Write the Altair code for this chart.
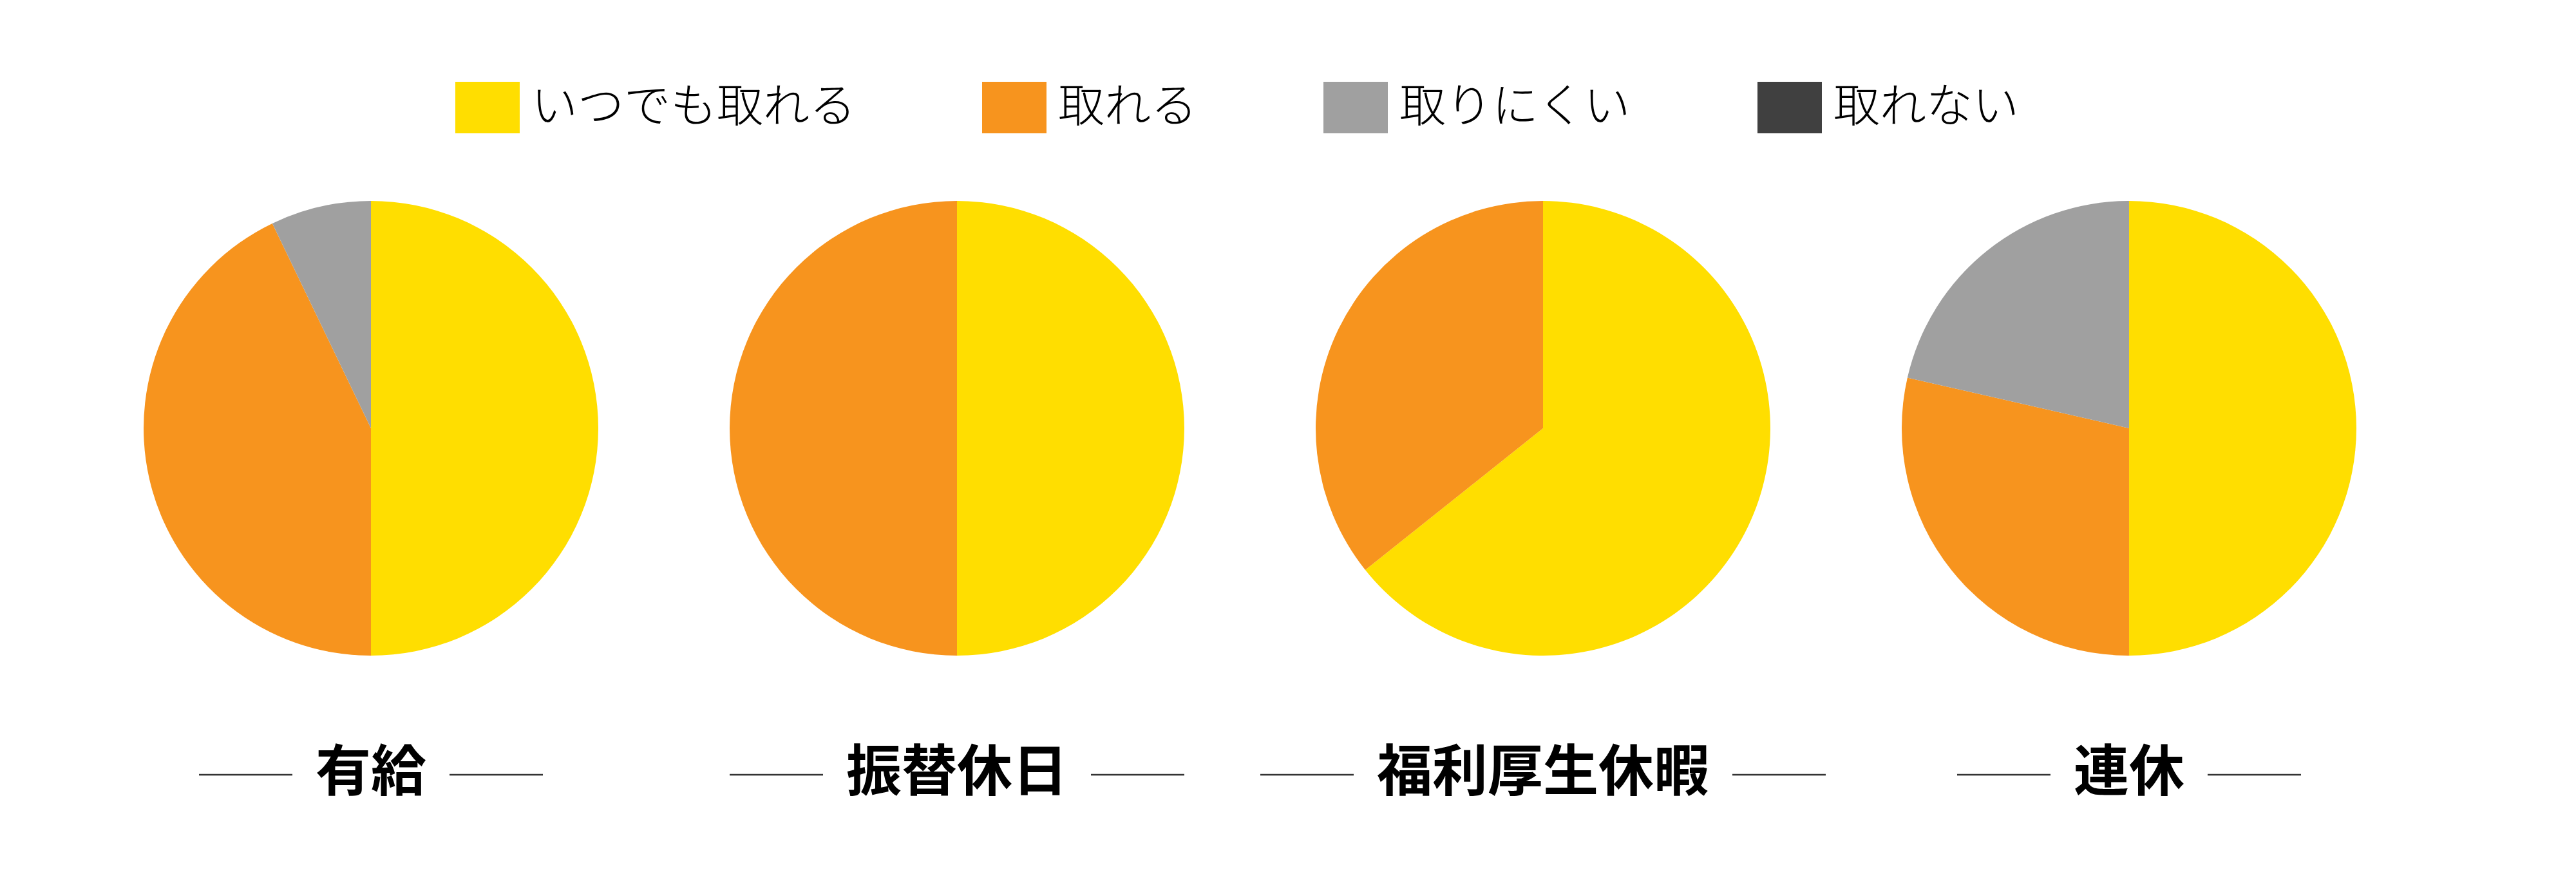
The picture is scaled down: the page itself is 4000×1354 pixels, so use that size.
import altair as alt
import pandas as pd

# --- data (counts per answer) ---
categories = ["有給", "振替休日", "福利厚生休暇", "連休"]
answers = ["いつでも取れる", "取れる", "取りにくい", "取れない"]
colors = ["#FFDE00", "#F7941E", "#A0A0A0", "#404040"]

yukyu = [7, 6, 1, 0]
furikae = [7, 7, 0, 0]
fukuri = [9, 5, 0, 0]
renkyu = [7, 4, 3, 0]
series = [yukyu, furikae, fukuri, renkyu]

rows = []
for ci, (cat, vals) in enumerate(zip(categories, series)):
    for ai, (ans, v) in enumerate(zip(answers, vals)):
        rows.append({"cat": cat, "i": ci, "ans": ans, "o": ai, "v": v})
df = pd.DataFrame(rows)
tdf = pd.DataFrame({"t": categories, "i": list(range(len(categories)))})

FONT = "Noto Sans CJK JP"
PAD = 0.633
xs_q = alt.Scale(domain=[-PAD, len(categories) - 1 + PAD])
xs_p = alt.Scale(type="point", domain=categories, padding=PAD)

pies = (
    alt.Chart(df)
    .transform_joinaggregate(tot="sum(v)", groupby=["cat"])
    .transform_window(cum="sum(v)", groupby=["cat"], sort=[alt.SortField("o")],
                      frame=[None, 0])
    .transform_calculate(s1="datum.cum / datum.tot",
                         s0="(datum.cum - datum.v) / datum.tot")
    .mark_arc(radius=353)
    .encode(
        x=alt.X("cat:N", scale=xs_p, axis=None),
        y=alt.value(665),
        theta=alt.Theta("s0:Q", scale=alt.Scale(domain=[0, 1])),
        theta2="s1:Q",
        color=alt.Color(
            "ans:N",
            scale=alt.Scale(domain=answers, range=colors),
            legend=alt.Legend(
                title=None, orient="none", legendX=707, legendY=117,
                direction="horizontal", padding=0,
                symbolType="M-1,-0.8H1V0.8H-1Z", symbolSize=10000,
                symbolStrokeWidth=0, symbolOpacity=1,
                labelFont=FONT, labelFontSize=72, labelFontWeight=300,
                labelColor="#000000", labelOffset=18, columnPadding=195,
                labelLimit=1000,
            ),
        ),
    )
)

titles = (
    alt.Chart(tdf)
    .mark_text(font=FONT, fontSize=86, fontWeight="bold", baseline="middle",
               align="center", color="#000000")
    .encode(x=alt.X("i:Q", scale=xs_q, axis=None), y=alt.value(1202), text="t:N")
)

base_r = alt.Chart(tdf).transform_calculate(
    h="(length(datum.t) * 43 + 36) / 910", L="145 / 910"
).transform_calculate(
    a="datum.i - datum.h - datum.L", b="datum.i - datum.h",
    c="datum.i + datum.h", d="datum.i + datum.h + datum.L",
)
left = base_r.mark_rule(color="#333333", strokeWidth=2.5).encode(
    x=alt.X("a:Q", scale=xs_q, axis=None), x2="b:Q", y=alt.value(1203))
right = base_r.mark_rule(color="#333333", strokeWidth=2.5).encode(
    x=alt.X("c:Q", scale=xs_q, axis=None), x2="d:Q", y=alt.value(1203))

chart = (
    alt.layer(pies, titles, left, right)
    .resolve_scale(x="independent")
    .properties(width=3882, height=1354,
                padding={"left": 0, "top": 0, "right": 118, "bottom": 0},
                autosize=alt.AutoSizeParams(type="none"), background="#ffffff")
    .configure_view(stroke=None)
)

chart.save("out.html", embed_options={"renderer": "svg", "actions": False})
